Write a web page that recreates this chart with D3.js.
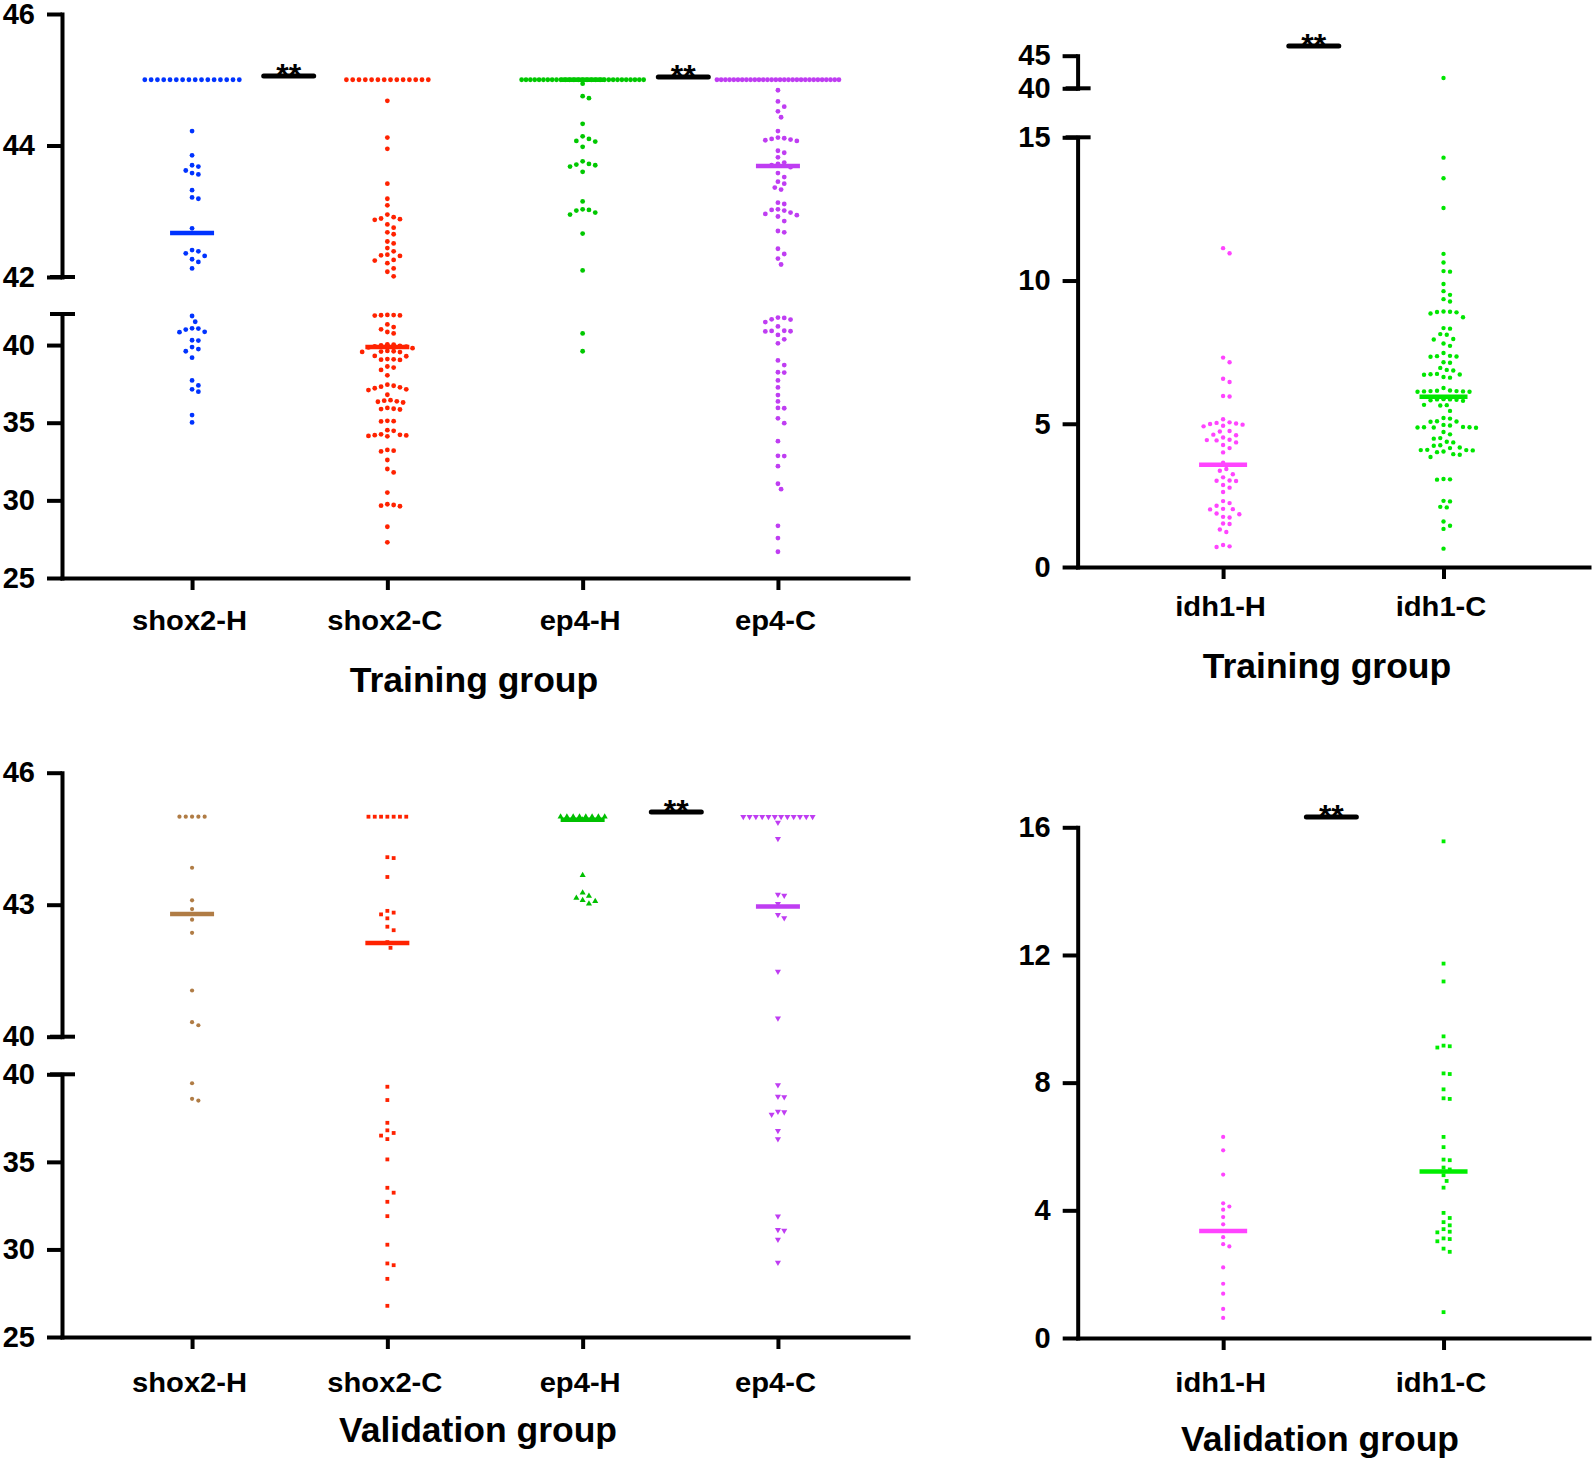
<!DOCTYPE html>
<html>
<head>
<meta charset="utf-8">
<script src="https://cdn.jsdelivr.net/npm/d3@7"></script>
<style>
body { margin: 0; background: #fff; }
text { font-family: "Liberation Sans", Arial, sans-serif; font-weight: bold; }
</style>
</head>
<body>
<div id="fig"></div>
<script>
// ---- data (Ct / dCt values) ----
var trainCats = ["shox2-H", "shox2-C", "ep4-H", "ep4-C"];
var idhTrainCats = ["idh1-H", "idh1-C"];
var validCats = ["shox2-H", "shox2-C", "ep4-H", "ep4-C"];
var idhValidCats = ["idh1-H", "idh1-C"];

var trainShox2H = [45,45,45,45,45,45,45,45,45,45,45,45,45,45,45,45,
  44.22,43.85,43.70,43.68,43.62,43.58,43.56,43.32,43.21,43.19,42.74,42.41,42.39,42.36,42.32,42.27,42.23,42.13,
  41.87,41.50,41.08,41.06,41.00,40.85,40.83,40.31,40.29,39.87,39.74,39.60,39.19,37.72,37.40,37.15,37.00,35.49,35.02];
var trainShox2C = [45,45,45,45,45,45,45,45,45,45,45,45,45,45,
  44.68,44.12,43.95,43.42,43.19,43.09,42.95,42.91,42.89,42.88,42.87,42.80,42.75,42.68,42.65,42.54,42.51,42.44,
  42.39,42.34,42.33,42.32,42.26,42.25,42.21,42.13,42.08,42.01,
  41.93,41.92,41.91,41.90,41.94,41.33,41.16,41.01,40.84,40.75,
  40.05,40.03,39.98,39.95,39.92,39.90,39.85,39.80,39.62,39.60,39.58,39.56,39.55,39.30,39.28,
  39.10,39.08,39.06,39.04,38.62,38.55,38.40,38.05,
  37.45,37.38,37.32,37.28,37.22,37.15,37.10,36.80,36.45,36.42,36.38,36.35,36.30,
  35.95,35.90,35.88,35.85,35.12,35.10,35.08,34.52,34.48,34.25,34.22,34.20,34.18,34.15,34.12,
  33.25,33.20,33.15,32.60,32.02,31.80,30.50,29.75,29.70,29.66,29.62,28.30,27.30];
var trainEp4H = [45,45,45,45,45,45,45,45,45,45,45,45,45,45,45,45,45,45,45,45,45,45,45,45,45,45,45,45,45,
  44.94,44.75,44.72,44.33,44.14,44.10,44.07,44.06,43.98,43.76,43.72,43.71,43.70,43.68,43.60,
  43.15,43.03,43.02,43.01,42.98,42.95,42.66,42.10,40.75,39.60];
var trainEp4C = [45,45,45,45,45,45,45,45,45,45,45,45,45,45,45,45,45,45,45,45,45,45,45,45,45,45,45,45,45,45,
  44.84,44.67,44.59,44.52,44.43,44.22,44.12,44.11,44.10,44.09,44.08,44.07,43.92,43.89,43.82,
  43.74,43.72,43.70,43.67,43.58,43.52,43.45,43.42,43.36,43.33,43.13,43.11,43.03,43.02,43.01,
  42.98,42.96,42.94,42.92,42.85,42.70,42.68,42.43,42.35,42.28,42.19,
  41.77,41.75,41.66,41.64,41.48,41.20,40.92,40.91,40.89,40.88,40.65,40.37,40.11,39.01,38.71,
  38.25,38.23,37.72,37.27,36.78,36.37,35.95,35.93,35.28,34.97,33.81,32.87,32.85,32.20,31.07,
  30.72,28.36,27.57,26.69];
var trainMedians = [42.67, 39.87, 45.0, 43.69];

var trainIdh1H = [11.13,10.95,7.31,7.15,6.57,6.46,5.97,5.95,5.16,5.05,5.03,5.01,4.99,4.97,4.93,4.91,
  4.75,4.73,4.62,4.60,4.52,4.44,4.43,4.42,4.35,4.26,4.15,4.00,3.64,3.42,3.36,3.24,3.13,3.02,3.01,3.00,
  2.86,2.77,2.62,2.30,2.23,2.14,2.03,2.02,2.01,1.87,1.84,1.75,1.73,1.52,1.50,1.31,1.22,0.77,0.72,0.70];
var trainIdh1C = [41.58,14.29,13.57,12.53,10.93,10.63,10.33,10.31,9.88,9.63,9.50,9.35,9.27,
  8.92,8.91,8.90,8.89,8.85,8.72,8.34,8.32,8.13,8.11,7.96,7.94,7.80,7.72,7.47,7.37,7.36,7.35,7.34,
  7.15,7.13,6.95,6.88,6.86,6.74,6.73,6.72,6.71,6.63,6.61,6.25,6.16,6.15,6.14,6.14,6.13,6.13,6.12,6.12,
  5.86,5.85,5.85,5.84,5.82,5.80,5.66,5.65,5.64,5.45,5.20,5.18,5.09,5.08,5.07,4.96,4.94,
  4.89,4.88,4.88,4.87,4.87,4.86,4.71,4.63,4.50,4.48,4.37,4.35,4.25,4.23,4.17,4.15,
  4.09,4.08,4.08,4.07,4.03,4.01,3.94,3.92,3.84,3.07,3.06,3.05,2.31,2.29,2.10,2.08,1.59,1.44,1.33,0.64];
var trainIdhMedians = [3.57, 5.94];

var validShox2H = [45,45,45,45,45,43.84,43.10,42.90,42.66,42.36,41.05,40.33,40.26,39.49,38.60,38.50];
var validShox2C = [45,45,45,45,45,45,45,44.08,44.06,43.63,42.86,42.82,42.78,42.69,42.50,42.42,42.15,42.02,
  39.29,38.53,37.23,36.80,36.65,36.50,36.30,35.14,33.52,33.24,32.72,31.90,30.27,29.20,29.10,28.32,26.78];
var validEp4H = [45,45,45,45,45,45,45,45,44.93,43.67,43.27,43.20,43.15,43.10,43.08,43.02];
var validEp4C = [45,45,45,45,45,45,45,45,45,45,45,45,44.87,44.50,43.23,43.21,43.02,42.77,42.70,41.48,
  40.42,39.39,38.73,38.71,37.87,37.84,37.70,36.78,36.30,31.90,31.12,31.08,30.57,29.26];
var validMedians = [42.79, 42.13, 44.93, 42.96];

var validIdh1H = [6.30,5.88,5.12,4.22,4.12,4.02,3.79,3.56,3.16,2.94,2.87,2.21,1.70,1.39,0.91,0.63];
var validIdh1C = [15.56,11.73,11.17,9.45,9.16,9.14,9.10,8.29,8.27,7.79,7.51,7.49,6.30,5.98,5.59,5.57,
  5.34,5.28,5.10,4.92,4.71,3.92,3.76,3.63,3.53,3.41,3.33,3.31,3.12,3.10,3.03,2.80,2.70,0.81];
var validIdhMedians = [3.35, 5.22];

// ---- layout ----
var panels = [
  {title: "Training group", cats: trainCats,
   series: [trainShox2H, trainShox2C, trainEp4H, trainEp4C], medians: trainMedians,
   colors: ["#0033ff", "#ff2200", "#00c800", "#bf3df2"], shapes: ["circle", "circle", "circle", "circle"],
   x0: 62, x1: 908, pad: 0.666, axisY: 578,
   segs: [{domain: [25, 42], range: [578, 314], ticks: [25, 30, 35, 40], cap: 42},
          {domain: [42, 46], range: [277, 14], ticks: [42, 44, 46], cap: 42}],
   step: 6.3, maxHalf: 61, size: 2.4, medHalf: 22, labelPad: 21, titleX: 474, titleY: 692,
   sig: [{pair: [0, 1], shift: -1, y: 76}, {pair: [2, 3], shift: 3, y: 77}]},
  {title: "Training group", cats: idhTrainCats,
   series: [trainIdh1H, trainIdh1C], medians: trainIdhMedians,
   colors: ["#ff44ff", "#00e600"], shapes: ["circle", "circle"],
   x0: 1077.6, x1: 1589, pad: 0.66, axisY: 567,
   segs: [{domain: [0, 15], range: [567, 137.3], ticks: [0, 5, 10, 15], cap: 15},
          {domain: [40, 45], range: [88.3, 55.7], ticks: [40, 45], cap: 40}],
   step: 6.5, maxHalf: 60, size: 2.2, medHalf: 24, labelPad: 18, titleX: 1327, titleY: 678,
   sig: [{pair: [0, 1], shift: -19.5, y: 46}]},
  {title: "Validation group", cats: validCats,
   series: [validShox2H, validShox2C, validEp4H, validEp4C], medians: validMedians,
   colors: ["#b07c45", "#ff2200", "#00c000", "#bf3df2"], shapes: ["circle", "square", "triangle", "triangleDown"],
   x0: 62, x1: 908, pad: 0.666, axisY: 1337,
   segs: [{domain: [25, 40], range: [1337, 1074.3], ticks: [25, 30, 35, 40], cap: 40},
          {domain: [40, 46], range: [1036.7, 772.7], ticks: [40, 43, 46], cap: 40}],
   step: 6.3, maxHalf: 61, size: 2.1, medHalf: 22, labelPad: 24, titleX: 478, titleY: 1442,
   sig: [{pair: [2, 3], shift: -4, y: 812}]},
  {title: "Validation group", cats: idhValidCats,
   series: [validIdh1H, validIdh1C], medians: validIdhMedians,
   colors: ["#ff44ff", "#00ee00"], shapes: ["circle", "square"],
   x0: 1077.7, x1: 1589, pad: 0.66, axisY: 1338,
   segs: [{domain: [0, 16], range: [1338, 827.3], ticks: [0, 4, 8, 12, 16]}],
   step: 6.2, maxHalf: 60, size: 2.1, medHalf: 24, labelPad: 23, titleX: 1320, titleY: 1451,
   sig: [{pair: [0, 1], shift: -2, y: 817}]}
];

var svg = d3.select("#fig")
    .append("svg")
    .attr("width", 1594)
    .attr("height", 1466);

// greedy beeswarm: tied runs become a row, everything else is nudged sideways
function swarm(vals, yOf, step, maxHalf) {
    var counts = d3.rollup(vals, v => v.length, d => d);
    var out = [];
    counts.forEach((n, v) => {
        if (n >= 5) {
            var sp = Math.min(step, 2 * maxHalf / (n - 1));
            for (var i = 0; i < n; i++) out.push({v: v, y: yOf(v), dx: (i - (n - 1) / 2) * sp});
        }
    });
    var placed = [];
    vals.filter(v => counts.get(v) < 5)
        .map(v => ({v: v, y: yOf(v)}))
        .sort((a, b) => a.y - b.y)
        .forEach(p => {
            for (var k = 0; k < 200; k++) {
                var cands = k === 0 ? [0] : [k * step / 2, -k * step / 2];
                var ok = cands.find(dx => placed.every(q => Math.hypot(q.dx - dx, q.y - p.y) >= step * 0.98));
                if (ok !== undefined) { p.dx = ok; break; }
            }
            placed.push(p);
            out.push(p);
        });
    return out;
}

function styleAxis(g, size) {
    g.attr("font-size", size)
        .attr("font-family", "'Liberation Sans', Arial, sans-serif")
        .attr("font-weight", "bold");
    g.select(".domain").attr("stroke-width", 4).attr("stroke-linecap", "square");
    g.selectAll(".tick line").attr("stroke-width", 4);
    g.selectAll(".tick text").attr("fill", "#000");
}

panels.forEach(p => {
    var g = svg.append("g");

    var xScale = d3.scalePoint()
        .domain(p.cats)
        .range([p.x0, p.x1])
        .padding(p.pad);

    p.segs.forEach(s => { s.scale = d3.scaleLinear().domain(s.domain).range(s.range); });
    var yOf = v => {
        for (var i = p.segs.length - 1; i >= 0; i--) {
            if (v >= p.segs[i].domain[0]) return p.segs[i].scale(v);
        }
        return p.segs[0].scale(v);
    };

    // y axis segments and break caps
    p.segs.forEach(s => {
        var ag = g.append("g")
            .attr("transform", `translate(${p.x0},0)`)
            .call(d3.axisLeft(s.scale).tickValues(s.ticks).tickFormat(d3.format("d"))
                .tickSize(15).tickSizeOuter(0).tickPadding(12));
        styleAxis(ag, 29);
        if (s.cap !== undefined) {
            g.append("line")
                .attr("x1", p.x0 - 12).attr("x2", p.x0 + 13)
                .attr("y1", s.scale(s.cap)).attr("y2", s.scale(s.cap))
                .attr("stroke", "#000").attr("stroke-width", 4);
        }
    });

    // x axis
    var xg = g.append("g")
        .attr("transform", `translate(0,${p.axisY})`)
        .call(d3.axisBottom(xScale).tickSize(12).tickSizeOuter(0).tickPadding(p.labelPad));
    styleAxis(xg, 27);
    xg.selectAll(".tick text").attr("transform", "translate(-3,0) scale(1.08,1)");

    // dots
    p.series.forEach((vals, i) => {
        var cx = xScale(p.cats[i]);
        var pts = swarm(vals, yOf, p.step, p.maxHalf);
        var col = p.colors[i];
        var shape = p.shapes[i];
        var dg = g.append("g").attr("fill", col);
        if (shape === "circle") {
            dg.selectAll("circle").data(pts).enter().append("circle")
                .attr("cx", d => cx + d.dx).attr("cy", d => d.y).attr("r", p.size);
        } else if (shape === "square") {
            dg.selectAll("rect").data(pts).enter().append("rect")
                .attr("x", d => cx + d.dx - 1.9).attr("y", d => d.y - 1.9)
                .attr("width", 3.8).attr("height", 3.8);
        } else {
            var tri = d3.symbol(d3.symbolTriangle, 16);
            dg.selectAll("path").data(pts).enter().append("path")
                .attr("d", tri)
                .attr("transform", d => `translate(${cx + d.dx},${d.y})` + (shape === "triangleDown" ? " rotate(180)" : ""));
        }
        // median line
        g.append("line")
            .attr("x1", cx - p.medHalf).attr("x2", cx + p.medHalf)
            .attr("y1", yOf(p.medians[i])).attr("y2", yOf(p.medians[i]))
            .attr("stroke", col).attr("stroke-width", 4.5);
    });

    // significance bars
    p.sig.forEach(s => {
        var mid = (xScale(p.cats[s.pair[0]]) + xScale(p.cats[s.pair[1]])) / 2 + s.shift;
        g.append("line")
            .attr("x1", mid - 25).attr("x2", mid + 25)
            .attr("y1", s.y).attr("y2", s.y)
            .attr("stroke", "#000").attr("stroke-width", 5).attr("stroke-linecap", "round");
        g.append("text")
            .attr("x", mid).attr("y", s.y + 10)
            .attr("text-anchor", "middle")
            .attr("font-size", 32)
            .text("**");
    });

    // group title
    g.append("text")
        .attr("x", p.titleX).attr("y", p.titleY)
        .attr("text-anchor", "middle")
        .attr("font-size", 35.5)
        .text(p.title);
});
</script>
</body>
</html>
